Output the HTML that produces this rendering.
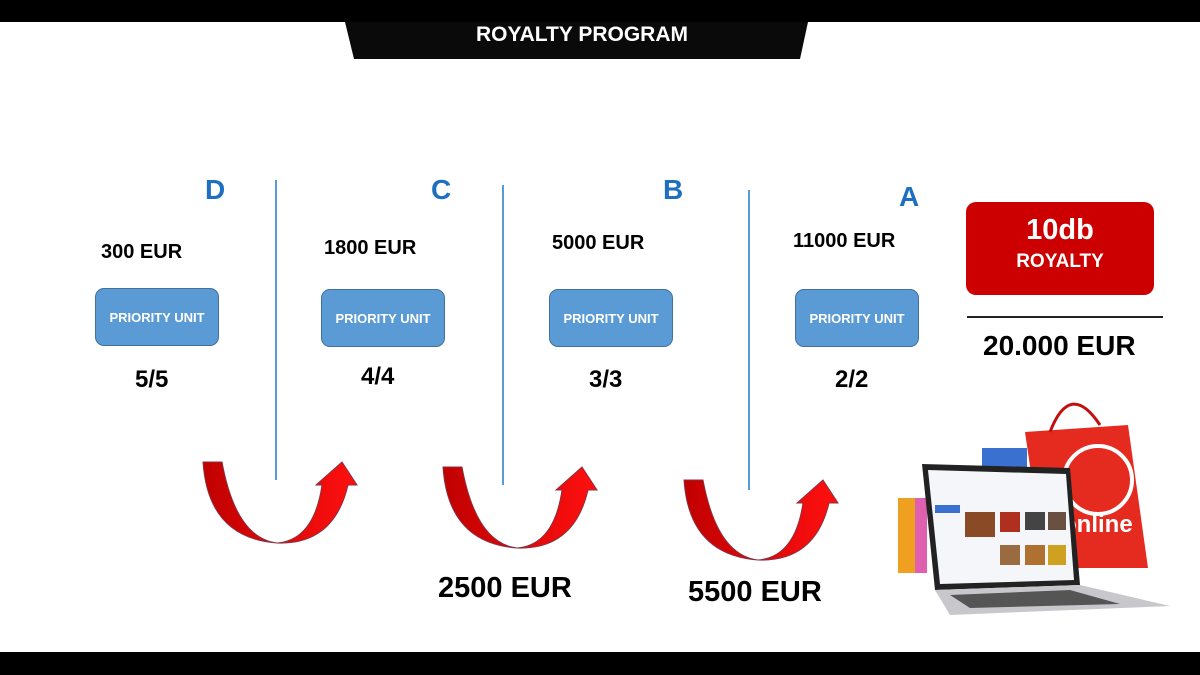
<!DOCTYPE html>
<html><head><meta charset="utf-8"><style>
body{margin:0;width:1200px;height:675px;overflow:hidden;background:#fff;font-family:"Liberation Sans",sans-serif;position:relative}
.t{position:absolute;font-weight:bold;white-space:nowrap}
.l{position:absolute;color:#1f6fc0;font-size:28px;font-weight:bold}
.v{position:absolute;width:2px;background:#5b9bd5}
.pu{position:absolute;width:122px;height:56px;background:#5b9bd5;border:1px solid #41719c;border-radius:9px;color:#fff;font-size:13px;font-weight:bold;display:flex;align-items:center;justify-content:center}
</style></head><body>
<svg width="1200" height="675" style="position:absolute;left:0;top:0">
<rect x="0" y="0" width="1200" height="22" fill="#000"/>
<polygon points="345,22 808,22 800,59 354,59" fill="#0a0a0a"/>
<rect x="0" y="652" width="1200" height="23" fill="#000"/>
<defs><linearGradient id="g" x1="0" x2="1"><stop offset="0" stop-color="#c00000"/><stop offset="1" stop-color="#ff1010"/></linearGradient></defs>
<g fill="url(#g)" stroke="#8a3040" stroke-width="1">
<path d="M203,462 L222,462 Q236,538 277,543 Q314,540 322,485 L316,485 L342,462 L357,485 L348,485 Q334,545 277,543 Q208,538 203,462Z"/>
<path d="M443,467 L462,467 Q476,543 517,548 Q554,545 562,490 L556,490 L582,467 L597,490 L588,490 Q574,550 517,548 Q448,543 443,467Z"/>
<path d="M684,480 L703,480 Q717,555 758,560 Q795,557 803,503 L797,503 L823,480 L838,503 L829,503 Q815,562 758,560 Q689,555 684,480Z"/>
</g>
<!-- bags -->
<rect x="898" y="498" width="25" height="75" fill="#f0a020"/>
<rect x="915" y="498" width="12" height="75" fill="#e060b0"/>
<rect x="982" y="448" width="45" height="30" fill="#3a70d0"/>
<polygon points="1025,432 1128,425 1148,568 1045,568" fill="#e52a20"/>
<path d="M1050,432 Q1070,380 1100,425" fill="none" stroke="#c01010" stroke-width="3"/>
<circle cx="1098" cy="480" r="34" fill="none" stroke="#fff" stroke-width="4"/>
<text x="1062" y="532" font-family="Liberation Sans" font-weight="bold" font-size="24" fill="#fff">online</text>
<!-- laptop -->
<polygon points="922,464 1070,468 1080,585 935,590" fill="#222"/>
<polygon points="928,470 1066,474 1074,580 940,584" fill="#f4f6fa"/>
<rect x="935" y="505" width="25" height="8" fill="#3a70d0"/>
<rect x="965" y="512" width="30" height="25" fill="#8a4a25"/>
<rect x="1000" y="512" width="20" height="20" fill="#b03020"/>
<rect x="1025" y="512" width="20" height="18" fill="#444"/>
<rect x="1048" y="512" width="18" height="18" fill="#6a5040"/>
<rect x="1000" y="545" width="20" height="20" fill="#9a6a40"/>
<rect x="1025" y="545" width="20" height="20" fill="#b07030"/>
<rect x="1048" y="545" width="18" height="20" fill="#d0a020"/>
<polygon points="935,590 1080,585 1170,606 950,615" fill="#c8c8cc"/>
<polygon points="950,595 1070,590 1120,604 970,608" fill="#555"/>
</svg>
<div class="t" style="left:0;width:1164px;text-align:center;top:23px;color:#fff;font-size:21px">ROYALTY PROGRAM</div>
<div class="l" style="left:205px;top:174px">D</div>
<div class="l" style="left:431px;top:174px">C</div>
<div class="l" style="left:663px;top:174px">B</div>
<div class="l" style="left:899px;top:181px">A</div>
<div class="v" style="left:275px;top:180px;height:300px"></div>
<div class="v" style="left:502px;top:185px;height:300px"></div>
<div class="v" style="left:748px;top:190px;height:300px"></div>
<div class="t" style="left:101px;top:241px;font-size:20px">300 EUR</div>
<div class="t" style="left:324px;top:237px;font-size:20px">1800 EUR</div>
<div class="t" style="left:552px;top:232px;font-size:20px">5000 EUR</div>
<div class="t" style="left:793px;top:230px;font-size:20px">11000 EUR</div>
<div class="pu" style="left:95px;top:288px">PRIORITY UNIT</div>
<div class="pu" style="left:321px;top:289px">PRIORITY UNIT</div>
<div class="pu" style="left:549px;top:289px">PRIORITY UNIT</div>
<div class="pu" style="left:795px;top:289px">PRIORITY UNIT</div>
<div class="t" style="left:135px;top:366px;font-size:24px">5/5</div>
<div class="t" style="left:361px;top:363px;font-size:24px">4/4</div>
<div class="t" style="left:589px;top:366px;font-size:24px">3/3</div>
<div class="t" style="left:835px;top:366px;font-size:24px">2/2</div>
<div style="position:absolute;left:966px;top:202px;width:188px;height:93px;background:#cc0000;border-radius:10px;color:#fff;text-align:center;font-weight:bold">
<div style="font-size:29px;margin-top:12px">10db</div><div style="font-size:19px;margin-top:4px">ROYALTY</div></div>
<div style="position:absolute;left:967px;top:316px;width:196px;height:2px;background:#222"></div>
<div class="t" style="left:983px;top:330px;font-size:28px">20.000 EUR</div>
<div class="t" style="left:438px;top:572px;font-size:29px">2500 EUR</div>
<div class="t" style="left:688px;top:576px;font-size:29px">5500 EUR</div>
</body></html>
